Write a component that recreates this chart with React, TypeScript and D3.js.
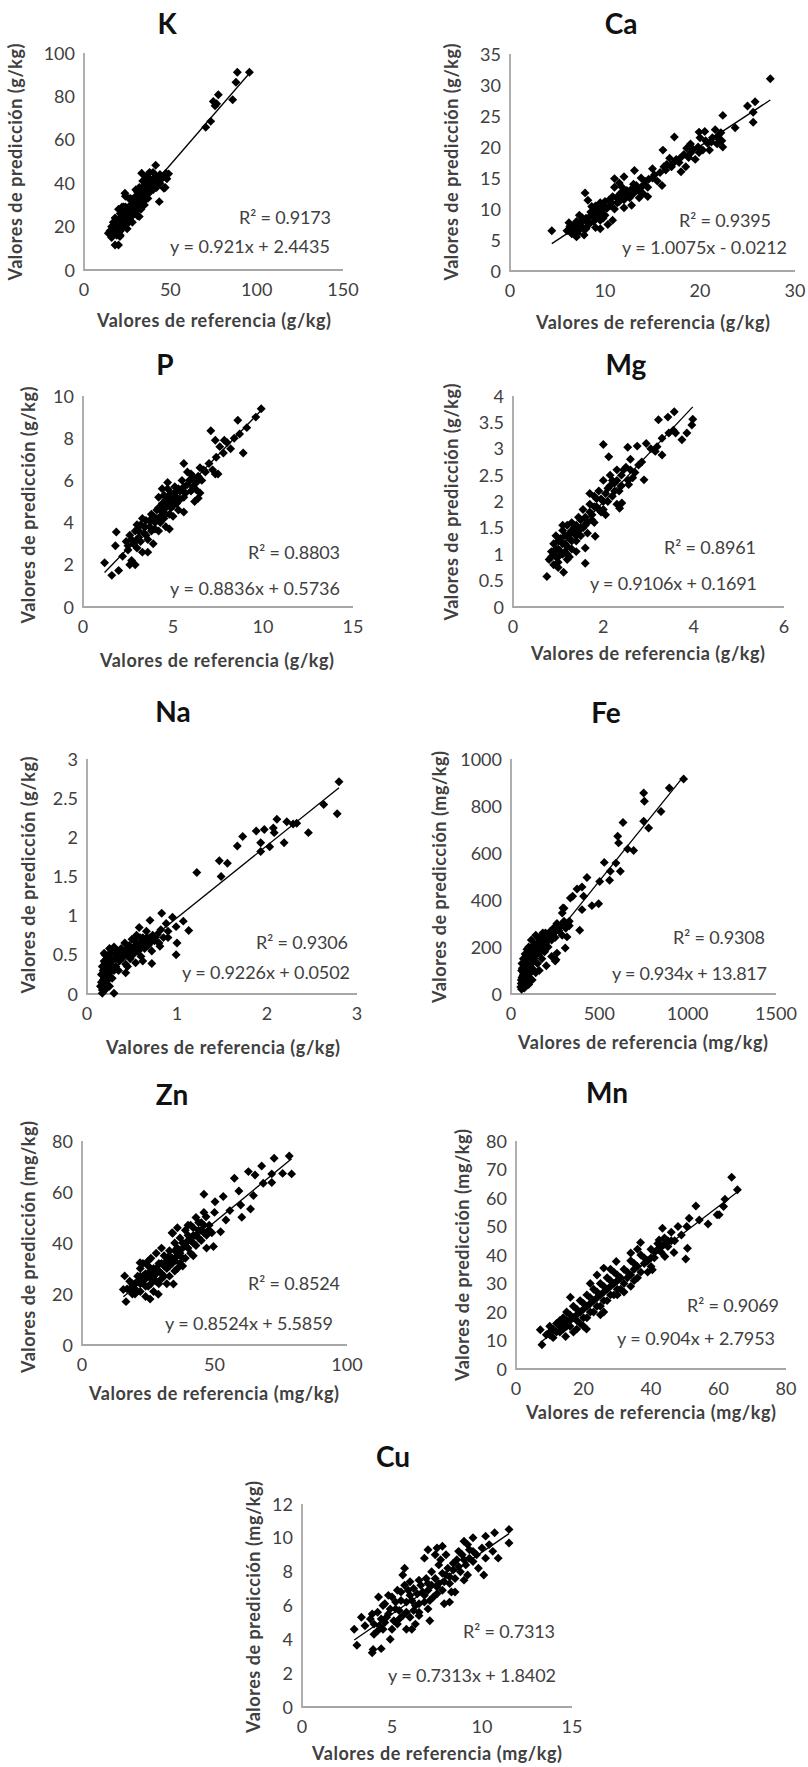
import React from "react";
import * as d3 from "d3";

// ---- data ----
const K_POINTS = [
  [95.8, 91.1], [88.8, 91.1], [88, 86.5], [86.1, 78.5], [77.8, 80.8], [74.9, 77.7], [75.9, 75.7], [76.8, 76.6],
  [73.4, 68.5], [70.5, 65.8], [49, 44.3], [47.4, 44.6], [41.5, 48.3], [43.6, 31.5], [46.3, 37.7], [33.4, 44.6],
  [23.7, 35.4], [32, 24.6], [18, 11.5], [20, 11.5], [14.1, 16.9], [20.8, 15.4],
  [15, 18], [16, 20], [17, 17], [17, 22], [18, 19], [18, 24], [19, 16], [19, 21], [20, 23], [20, 19], [21, 26],
  [21, 18], [22, 22], [22, 25], [23, 20], [23, 27], [24, 24], [24, 29], [25, 22], [25, 26], [26, 28], [26, 24],
  [27, 30], [27, 26], [28, 25], [28, 32], [29, 28], [29, 31], [30, 27], [30, 34], [31, 30], [32, 33], [32, 29],
  [33, 36], [33, 31], [34, 34], [35, 37], [35, 32], [36, 35], [36, 40], [37, 38], [38, 36], [38, 41], [39, 39],
  [40, 42], [40, 37], [41, 40], [42, 43], [43, 41], [44, 44], [45, 42], [47, 38], [36, 43], [30, 37], [26, 33],
  [22, 29], [24, 34], [34, 41], [38, 45], [42, 38], [31, 25], [28, 22], [20, 28], [18, 22], [16, 15], [21, 16],
  [25, 19], [33, 28], [37, 33],
  [16, 17], [17, 19], [18, 18], [19, 19], [19, 23], [20, 21], [21, 20], [21, 23], [22, 24], [22, 19], [23, 22],
  [23, 24], [24, 22], [24, 26], [25, 24], [25, 28], [26, 26], [26, 22], [27, 25], [27, 28], [28, 27], [28, 29],
  [29, 26], [29, 30], [30, 29], [30, 31], [31, 28], [31, 32], [32, 31], [32, 35], [33, 33], [33, 29], [34, 32],
  [34, 36], [35, 34], [35, 39], [36, 33], [36, 37], [37, 35], [37, 40], [38, 39], [39, 37], [39, 41], [40, 40],
  [41, 42], [41, 38], [42, 41], [43, 43], [44, 40], [46, 43], [48, 42], [35, 30], [29, 33], [23, 29], [27, 33],
  [32, 38], [31, 36], [37, 43], [40, 45],
];
const CA_POINTS = [
  [27.4, 31.0], [25.8, 27.3], [25, 26.6], [25.6, 25.6], [25.6, 24.0], [23.7, 23.1], [22.4, 25.1], [22.4, 20.0],
  [19.9, 22.4], [17.3, 21.6], [16.1, 19.5], [16, 13.8], [13.1, 16.2], [12, 15.2], [11, 14.9], [7.9, 12.6],
  [4.4, 6.5], [8.2, 11.4],
  [6, 6.5], [6.2, 7.8], [6.5, 6], [6.8, 7], [7, 5.5], [7, 8], [7.2, 6.5], [7.5, 7.2], [7.8, 5.8], [8, 8.5],
  [8, 6.8], [8.3, 7.5], [8.5, 9.5], [8.8, 8], [9, 10.5], [9, 7], [9.2, 9], [9.5, 11], [9.5, 8.2], [9.8, 10],
  [10, 9], [10, 11.2], [10.3, 7.5], [10.5, 10.5], [10.8, 12], [11, 10], [11, 13.5], [11.3, 11], [11.6, 12.5],
  [12, 11.5], [12, 10.2], [12.3, 13], [12.6, 11.8], [13, 12.5], [13, 14], [13.5, 13], [14, 12.5], [14.2, 14.5],
  [14.5, 13.5], [15, 15], [15, 16.5], [15.5, 14.5], [16.2, 16.8], [16.5, 17.2], [17, 16.8], [17.5, 18],
  [17.8, 17.5], [18, 16], [18.3, 18.8], [18.5, 16.8], [19, 19], [19, 20.5], [19.5, 18], [19.8, 20], [20, 21.5],
  [20.3, 19.5], [20.5, 22.5], [20.8, 20.6], [21, 19.5], [21.3, 21.5], [21.6, 22.8], [21.8, 20.5], [22, 21.2],
  [22.2, 22.3], [14.5, 12], [13.8, 15], [9.5, 6.8], [10.8, 8.2], [7.3, 9], [11.5, 14.2], [16.8, 18.2],
  [18.6, 19.8], [12.8, 10.6],
  [6.3, 7.2], [6.6, 6.6], [6.9, 7.6], [7.1, 6.1], [7.4, 7.8], [7.7, 6.9], [7.9, 8.2], [8.2, 7.9], [8.4, 8.8],
  [8.7, 9], [8.9, 9.8], [9.1, 8.5], [9.3, 10.2], [9.6, 9.5], [9.9, 10.6], [10.2, 10.1], [10.4, 11.4],
  [10.7, 11], [11.2, 11.8], [11.5, 11.2], [11.8, 12.2], [12.1, 12.6], [12.5, 12.2], [12.9, 13.4], [13.3, 13.8],
  [13.7, 13.3], [14.1, 14], [14.6, 14.8], [15.2, 15.5], [15.8, 15.9], [16.4, 16.3], [17.2, 17.4], [17.9, 18.2],
  [18.8, 18.3], [19.3, 19.6], [19.9, 19.1], [20.6, 21], [21.2, 20.8], [21.9, 21.8], [22.3, 21], [9.8, 8.5],
  [8.6, 10.4], [11.8, 13.5], [13.6, 11.8], [7.6, 8.6],
];
const P_POINTS = [
  [9.9, 9.4], [9.6, 9.0], [8.9, 7.3], [8.6, 8.85], [9.1, 8.5], [7.1, 8.35], [7.85, 7.9], [7.35, 7.9],
  [7.5, 6.3], [7.35, 6.3], [6.4, 5.15], [6.3, 5.55], [5.6, 4.5], [4.8, 3.7], [5.6, 6.8], [1.85, 3.55],
  [1.2, 2.1], [1.6, 1.5], [1.98, 1.73], [2.9, 2.0], [1.8, 2.9],
  [2.2, 2.4], [2.4, 3.1], [2.5, 2.7], [2.6, 3.4], [2.7, 2.2], [2.8, 3.0], [2.9, 3.6], [3.0, 2.8], [3.1, 3.3],
  [3.2, 3.9], [3.3, 2.6], [3.4, 3.5], [3.5, 4.1], [3.6, 3.2], [3.7, 3.8], [3.8, 4.4], [3.9, 3.0], [4.0, 4.0],
  [4.1, 4.6], [4.2, 3.6], [4.3, 4.3], [4.4, 4.9], [4.5, 4.2], [4.5, 5.3], [4.6, 4.7], [4.7, 5.6], [4.8, 5.0],
  [4.8, 4.4], [4.9, 5.4], [5.0, 4.8], [5.1, 5.7], [5.2, 5.2], [5.3, 4.6], [5.4, 5.5], [5.5, 6.0], [5.6, 5.2],
  [5.8, 5.8], [6.0, 5.5], [6.1, 6.2], [6.3, 5.9], [6.5, 6.6], [6.6, 6.0], [6.8, 6.4], [7.0, 6.8], [7.2, 6.5],
  [7.4, 7.1], [7.6, 7.6], [7.8, 7.3], [8.0, 7.8], [8.2, 7.5], [8.4, 8.0], [8.7, 8.2], [4.6, 3.8], [3.6, 2.6],
  [4.2, 5.2], [5.8, 6.4], [6.2, 5.0], [3.0, 3.9], [2.6, 2.0],
  [2.5, 2.9], [2.7, 3.2], [2.9, 3.1], [3.1, 3.6], [3.2, 3.1], [3.4, 3.8], [3.5, 3.4], [3.7, 4.1], [3.8, 3.6],
  [3.9, 4.3], [4.0, 3.7], [4.1, 4.2], [4.2, 4.7], [4.3, 4.0], [4.4, 4.5], [4.5, 4.8], [4.6, 5.1], [4.6, 4.4],
  [4.7, 4.9], [4.8, 5.3], [4.9, 4.7], [5.0, 5.1], [5.1, 5.4], [5.2, 4.9], [5.3, 5.6], [5.4, 5.1], [5.6, 5.7],
  [5.7, 5.4], [5.9, 6.0], [6.1, 5.7], [6.4, 6.2], [6.7, 6.5], [4.4, 5.6], [4.7, 5.9], [3.3, 4.2], [5.0, 4.3],
  [6.0, 6.3], [6.5, 5.4],
];
const MG_POINTS = [
  [3.98, 3.56], [3.96, 3.45], [3.85, 3.3], [3.74, 3.17], [3.57, 3.7], [3.43, 3.6], [3.22, 3.55], [3.3, 2.88],
  [3.19, 3.04], [2.9, 2.41], [2.78, 2.69], [2.0, 3.08], [2.12, 2.85], [2.54, 3.03], [1.6, 0.83], [1.6, 1.12],
  [1.12, 0.66], [0.75, 0.58], [1.82, 1.34], [2.41, 1.97], [2.36, 1.87], [2.56, 2.32],
  [0.8, 0.9], [0.85, 1.05], [0.9, 0.8], [0.9, 1.2], [0.95, 0.95], [1.0, 1.1], [1.0, 0.75], [1.05, 1.3],
  [1.1, 1.0], [1.1, 1.45], [1.15, 1.2], [1.2, 0.9], [1.2, 1.55], [1.25, 1.3], [1.3, 1.1], [1.3, 1.6],
  [1.35, 1.4], [1.4, 1.25], [1.45, 1.7], [1.5, 1.5], [1.5, 1.35], [1.55, 1.85], [1.6, 1.55], [1.65, 1.4],
  [1.7, 1.95], [1.75, 1.75], [1.8, 2.1], [1.8, 1.6], [1.85, 1.9], [1.9, 2.2], [1.95, 1.8], [2.0, 2.0],
  [2.0, 2.4], [2.05, 1.75], [2.1, 2.25], [2.15, 2.5], [2.2, 2.1], [2.25, 2.35], [2.3, 2.6], [2.35, 2.2],
  [2.4, 2.5], [2.5, 2.65], [2.55, 2.4], [2.6, 2.8], [2.7, 2.55], [2.75, 3.05], [2.85, 2.75], [2.95, 3.1],
  [3.05, 3.0], [3.15, 2.95], [3.3, 3.2], [3.45, 3.3], [3.55, 3.35], [3.6, 3.3], [1.25, 0.95], [1.4, 1.05],
  [0.95, 1.35], [1.7, 2.15], [2.3, 1.95],
  [0.85, 0.95], [0.9, 1.0], [0.95, 1.1], [1.0, 0.95], [1.0, 1.25], [1.05, 1.05], [1.1, 1.2], [1.15, 1.05],
  [1.15, 1.35], [1.2, 1.15], [1.25, 1.4], [1.3, 1.25], [1.35, 1.5], [1.4, 1.35], [1.4, 1.55], [1.45, 1.45],
  [1.5, 1.65], [1.55, 1.5], [1.6, 1.7], [1.65, 1.6], [1.7, 1.8], [1.75, 1.65], [1.8, 1.9], [1.85, 2.05],
  [1.9, 1.85], [1.95, 2.05], [2.0, 1.85], [2.05, 2.15], [2.1, 2.0], [2.15, 2.3], [2.2, 2.4], [2.25, 2.2],
  [2.3, 2.4], [2.4, 2.3], [2.45, 2.6], [2.6, 2.6], [2.65, 2.45], [1.0, 0.85], [1.2, 1.0], [1.3, 1.45],
  [1.1, 1.55],
];
const NA_POINTS = [
  [2.8, 2.71], [2.78, 2.3], [2.63, 2.42], [2.46, 2.06], [2.33, 2.18], [2.29, 2.17], [2.22, 2.2], [2.19, 1.93],
  [2.11, 2.23], [2.07, 2.12], [2.08, 2.06], [2.03, 1.88], [1.93, 1.93], [1.93, 1.82], [1.88, 2.08], [1.97, 2.1],
  [1.73, 2.01], [1.67, 1.89], [1.56, 1.67], [1.47, 1.7], [1.49, 1.5], [1.22, 1.55], [1.13, 0.81], [1.07, 0.93],
  [0.99, 0.86], [1.0, 0.65], [0.99, 0.5], [0.95, 0.98], [0.83, 1.03], [0.7, 0.94], [0.72, 0.39], [0.43, 0.27],
  [0.3, 0.01], [0.17, 0.01], [0.19, 0.52], [0.81, 0.61], [0.9, 0.72],
  [0.15, 0.1], [0.16, 0.25], [0.17, 0.35], [0.18, 0.18], [0.19, 0.42], [0.2, 0.05], [0.2, 0.3], [0.21, 0.15],
  [0.22, 0.45], [0.23, 0.25], [0.24, 0.38], [0.25, 0.1], [0.26, 0.52], [0.27, 0.3], [0.28, 0.2], [0.3, 0.45],
  [0.3, 0.6], [0.32, 0.35], [0.34, 0.5], [0.36, 0.42], [0.38, 0.58], [0.4, 0.48], [0.42, 0.65], [0.43, 0.38],
  [0.45, 0.55], [0.47, 0.62], [0.48, 0.45], [0.5, 0.7], [0.5, 0.52], [0.52, 0.6], [0.54, 0.4], [0.55, 0.75],
  [0.56, 0.55], [0.58, 0.85], [0.6, 0.65], [0.6, 0.48], [0.62, 0.72], [0.64, 0.58], [0.66, 0.8], [0.68, 0.62],
  [0.7, 0.72], [0.72, 0.55], [0.75, 0.68], [0.78, 0.76], [0.8, 0.65], [0.82, 0.82], [0.85, 0.72], [0.88, 0.9],
  [0.9, 0.8], [0.25, 0.58], [0.35, 0.3], [0.62, 0.42], [0.45, 0.35], [0.2, 0.5],
  [0.16, 0.15], [0.17, 0.05], [0.18, 0.3], [0.19, 0.22], [0.2, 0.4], [0.21, 0.35], [0.22, 0.1], [0.23, 0.35],
  [0.24, 0.5], [0.25, 0.2], [0.26, 0.4], [0.27, 0.45], [0.28, 0.35], [0.29, 0.55], [0.3, 0.3], [0.32, 0.45],
  [0.33, 0.55], [0.35, 0.5], [0.37, 0.45], [0.39, 0.52], [0.41, 0.55], [0.44, 0.5], [0.46, 0.6], [0.49, 0.58],
  [0.51, 0.5], [0.53, 0.68], [0.55, 0.62], [0.57, 0.55], [0.59, 0.72], [0.61, 0.6], [0.63, 0.65], [0.65, 0.7],
  [0.67, 0.72], [0.7, 0.65], [0.73, 0.75], [0.76, 0.72], [0.2, 0.2], [0.18, 0.1], [0.24, 0.3],
];
const FE_POINTS = [
  [977, 915], [896, 877], [849, 777], [779, 706], [751, 735], [751, 855], [755, 820], [634, 730], [604, 671],
  [609, 643], [694, 611], [660, 617], [619, 522], [594, 557], [562, 522], [558, 484], [528, 560], [502, 479],
  [496, 384], [458, 376], [430, 496], [402, 455], [411, 416], [402, 359], [389, 271], [374, 447], [336, 408],
  [349, 416], [294, 366], [317, 243], [307, 196], [255, 146], [260, 174],
  [55, 30], [58, 60], [60, 100], [62, 130], [65, 40], [68, 80], [70, 150], [72, 110], [75, 25], [78, 60],
  [80, 170], [82, 130], [85, 95], [88, 50], [90, 190], [92, 145], [95, 115], [98, 75], [100, 200], [105, 160],
  [108, 125], [110, 90], [115, 230], [118, 180], [120, 140], [125, 105], [130, 210], [135, 165], [140, 250],
  [145, 190], [150, 130], [155, 220], [160, 175], [165, 240], [170, 200], [175, 150], [180, 260], [185, 215],
  [190, 180], [200, 245], [210, 200], [220, 265], [230, 230], [240, 280], [250, 240], [260, 300], [270, 270],
  [280, 290], [290, 250], [300, 310], [310, 280], [320, 300], [330, 290], [290, 345], [300, 365], [330, 310],
  [120, 60], [140, 90], [100, 40], [200, 120], [160, 100], [230, 160], [250, 140],
  [58, 45], [62, 70], [64, 110], [66, 55], [70, 90], [72, 130], [74, 70], [76, 110], [78, 150], [80, 85],
  [84, 115], [86, 160], [88, 130], [92, 100], [94, 170], [96, 140], [100, 120], [102, 175], [106, 145],
  [110, 190], [112, 160], [116, 130], [120, 200], [124, 170], [128, 150], [132, 190], [138, 210], [142, 170],
  [148, 200], [152, 240], [158, 200], [162, 225], [168, 180], [172, 230], [178, 205], [182, 240], [188, 220],
  [195, 260], [205, 230], [215, 250], [225, 245], [235, 260], [245, 265], [255, 280], [265, 290], [60, 20],
  [70, 35], [85, 60],
];
const ZN_POINTS = [
  [78.2, 74.1], [79.1, 67.1], [75.7, 67.3], [72.5, 73.2], [71.6, 63.7], [71.6, 67.1], [68.4, 63.4],
  [67.8, 70.2], [65.3, 66.7], [64.7, 58.6], [62.8, 68], [63.6, 53.3], [60.3, 50.1], [59.2, 60.4], [57.5, 65.4],
  [59.9, 54.9], [55.8, 52.7], [54.3, 49], [53.3, 58.2], [50.2, 56.2], [46, 59.1], [49.6, 38.6], [52.3, 44.4],
  [46.8, 50.3], [34.5, 23.9], [28.8, 19.9], [25.7, 18], [16.6, 17], [16.1, 27.1], [15.6, 21.8], [21.9, 32.3],
  [34.2, 43.8],
  [17, 22], [18, 25], [19, 20], [20, 24], [21, 27], [22, 21], [22, 30], [23, 25], [24, 19], [24, 28], [25, 23],
  [25, 33], [26, 26], [27, 30], [27, 21], [28, 36], [28, 25], [29, 32], [30, 28], [31, 35], [32, 30], [32, 24],
  [33, 37], [34, 32], [35, 40], [35, 29], [36, 35], [37, 42], [37, 32], [38, 38], [39, 45], [39, 34], [40, 41],
  [41, 36], [41, 47], [42, 43], [43, 39], [43, 50], [44, 45], [45, 41], [45, 48], [46, 44], [47, 38], [48, 47],
  [49, 44], [50, 52], [30, 38], [26, 34], [33, 27], [38, 31], [42, 35], [23, 32], [20, 20], [36, 46], [46, 52],
  [29, 24], [34, 44],
  [18, 22], [19, 24], [20, 22], [21, 25], [22, 24], [23, 27], [24, 23], [24, 26], [25, 28], [26, 24], [26, 29],
  [27, 27], [28, 30], [28, 28], [29, 29], [30, 32], [30, 26], [31, 31], [32, 33], [33, 31], [33, 35], [34, 34],
  [35, 33], [35, 37], [36, 38], [37, 36], [38, 40], [38, 34], [39, 39], [40, 43], [40, 38], [41, 41], [42, 40],
  [42, 46], [43, 43], [44, 42], [44, 48], [45, 45], [46, 47], [47, 43], [48, 45], [36, 30], [31, 27], [25, 31],
  [22, 27], [40, 47],
];
const MN_POINTS = [
  [63.9, 67.3], [65.6, 62.9], [61.9, 59.6], [61.5, 57], [60.2, 54.1], [59.6, 54.1], [53.3, 57.2], [54.3, 52.3],
  [56.9, 50.9], [51.3, 52.9], [50.6, 50], [50.8, 42.4], [50.3, 38.6], [43.4, 49.4], [42.4, 45.3], [44.1, 39.5],
  [46.8, 40.9], [40.4, 34.8], [36.9, 44.4], [34, 40.7], [29.7, 37.7], [26, 35.4], [16.1, 25.2], [7.7, 8.5],
  [7.2, 13.8], [10.2, 13.2], [14.7, 11.4], [20.9, 14.0],
  [9, 12], [10, 15], [11, 11], [12, 16], [13, 13], [14, 18], [15, 15], [15, 20], [16, 17], [17, 13], [17, 22],
  [18, 19], [19, 16], [19, 24], [20, 21], [21, 18], [21, 26], [22, 23], [23, 20], [23, 28], [24, 25], [25, 22],
  [25, 30], [26, 27], [27, 24], [27, 32], [28, 29], [29, 26], [29, 34], [30, 31], [31, 28], [32, 35], [33, 32],
  [34, 29], [34, 38], [35, 35], [36, 32], [37, 40], [38, 37], [39, 34], [40, 42], [41, 39], [42, 44], [43, 41],
  [44, 46], [45, 43], [46, 48], [47, 45], [48, 50], [49, 47], [22, 30], [26, 20], [32, 27], [36, 42], [18, 14],
  [28, 35], [40, 36], [24, 33], [13, 17], [20, 15],
  [10, 12], [11, 14], [12, 13], [13, 15], [14, 14], [14, 16], [15, 17], [16, 15], [16, 19], [17, 18], [18, 17],
  [18, 21], [19, 20], [20, 18], [20, 23], [21, 22], [22, 20], [22, 25], [23, 24], [24, 22], [24, 27], [25, 26],
  [26, 24], [26, 29], [27, 28], [28, 26], [28, 31], [29, 30], [30, 28], [30, 33], [31, 32], [32, 30], [33, 34],
  [34, 33], [35, 37], [36, 36], [37, 34], [38, 39], [39, 38], [40, 39], [41, 41], [42, 42], [43, 43], [44, 44],
  [45, 45], [46, 45], [30, 26], [25, 19], [35, 31],
];
const CU_POINTS = [
  [11.5, 10.5], [11.5, 9.7], [10.9, 8.8], [10.6, 9.2], [10.1, 7.8], [10.7, 10.3], [10.2, 10.1], [9.5, 10.0],
  [9.2, 9.6], [9.0, 7.5], [8.5, 6.8], [8.2, 6.2], [7.8, 9.5], [7.5, 9.4], [7.0, 9.3], [7.1, 5.1], [6.5, 5.4],
  [6.1, 4.6], [5.8, 4.6], [5.7, 8.2], [4.9, 4.0], [4.4, 3.45], [3.9, 3.2], [3.95, 3.4], [3.05, 3.65],
  [2.9, 4.6], [3.3, 5.3], [3.9, 5.5], [4.25, 6.5],
  [3.5, 4.8], [3.8, 5.2], [4.0, 4.3], [4.2, 5.6], [4.3, 4.8], [4.5, 6.0], [4.6, 5.0], [4.8, 5.5], [5.0, 6.5],
  [5.0, 4.6], [5.2, 5.8], [5.3, 6.9], [5.4, 5.2], [5.5, 6.3], [5.7, 7.2], [5.8, 5.6], [6.0, 6.6], [6.0, 5.3],
  [6.2, 7.0], [6.3, 6.0], [6.5, 7.5], [6.5, 5.6], [6.7, 6.8], [6.8, 6.2], [7.0, 7.3], [7.0, 5.8], [7.2, 8.0],
  [7.3, 6.5], [7.5, 7.1], [7.6, 8.4], [7.8, 6.9], [8.0, 7.8], [8.0, 9.0], [8.2, 7.3], [8.4, 8.5], [8.5, 7.6],
  [8.7, 9.2], [8.8, 8.0], [9.0, 8.7], [9.2, 7.8], [9.3, 9.3], [9.5, 8.6], [9.7, 9.0], [9.8, 8.2], [10.0, 9.4],
  [10.2, 8.8], [10.4, 9.6], [6.8, 8.8], [5.6, 7.8], [7.9, 6.1], [9.0, 9.8], [4.8, 6.6], [6.3, 4.9], [8.3, 6.8],
  [7.4, 9.0],
  [4.0, 4.9], [4.2, 4.5], [4.4, 5.2], [4.5, 4.6], [4.7, 5.3], [4.9, 5.8], [5.1, 5.1], [5.2, 6.2], [5.4, 5.7],
  [5.5, 6.8], [5.6, 5.4], [5.8, 6.2], [5.9, 6.9], [6.1, 6.3], [6.2, 5.7], [6.4, 6.7], [6.5, 6.1], [6.6, 7.2],
  [6.8, 6.6], [6.9, 7.6], [7.0, 6.9], [7.1, 6.3], [7.2, 7.2], [7.4, 7.6], [7.5, 6.7], [7.6, 7.3], [7.8, 7.9],
  [7.9, 7.4], [8.1, 8.2], [8.2, 7.7], [8.4, 8.1], [8.6, 8.7], [8.7, 8.3], [8.9, 9.0], [9.1, 8.4], [9.3, 8.8],
  [9.5, 9.2], [6.0, 7.4], [7.7, 8.7], [5.3, 4.9], [4.6, 6.1],
];

const ELEMENTS = ["K", "Ca", "P", "Mg", "Na", "Fe", "Zn", "Mn", "Cu"];
const R2 = ["0.9173", "0.9395", "0.8803", "0.8961", "0.9306", "0.9308", "0.8524", "0.9069", "0.7313"];
const SLOPES = [0.921, 1.0075, 0.8836, 0.9106, 0.9226, 0.934, 0.8524, 0.904, 0.7313];
const INTERCEPTS = [2.4435, -0.0212, 0.5736, 0.1691, 0.0502, 13.817, 5.5859, 2.7953, 1.8402];
const EQUATIONS = [
  "y = 0.921x + 2.4435", "y = 1.0075x - 0.0212", "y = 0.8836x + 0.5736", "y = 0.9106x + 0.1691",
  "y = 0.9226x + 0.0502", "y = 0.934x + 13.817", "y = 0.8524x + 5.5859", "y = 0.904x + 2.7953",
  "y = 0.7313x + 1.8402",
];
const UNITS = ["g/kg", "g/kg", "g/kg", "g/kg", "g/kg", "mg/kg", "mg/kg", "mg/kg", "mg/kg"];
const X_TICKS = [
  [0, 50, 100, 150], [0, 10, 20, 30], [0, 5, 10, 15], [0, 2, 4, 6], [0, 1, 2, 3],
  [0, 500, 1000, 1500], [0, 50, 100], [0, 20, 40, 60, 80], [0, 5, 10, 15],
];
const Y_TICKS = [
  [0, 20, 40, 60, 80, 100], [0, 5, 10, 15, 20, 25, 30, 35], [0, 2, 4, 6, 8, 10],
  [0, 0.5, 1, 1.5, 2, 2.5, 3, 3.5, 4], [0, 0.5, 1, 1.5, 2, 2.5, 3], [0, 200, 400, 600, 800, 1000],
  [0, 20, 40, 60, 80], [0, 10, 20, 30, 40, 50, 60, 70, 80], [0, 2, 4, 6, 8, 10, 12],
];
const POINTS = [K_POINTS, CA_POINTS, P_POINTS, MG_POINTS, NA_POINTS, FE_POINTS, ZN_POINTS, MN_POINTS, CU_POINTS];

// ---- layout (pixels) ----
const LAYOUT = [
  { x0: 84, x1: 343, yb: 270, yt: 53, tx: 167, ty: 24, ytx: 15, yty: 162, xtx: 214, xty: 320, r2x: 331, r2y: 217, eqx: 330, eqy: 246, eqw: 160 },
  { x0: 510, x1: 795, yb: 271, yt: 54, tx: 621, ty: 24, ytx: 451, yty: 162, xtx: 653, xty: 322, r2x: 771, r2y: 220, eqx: 787, eqy: 247, eqw: 165 },
  { x0: 83, x1: 353, yb: 607, yt: 396, tx: 165, ty: 365, ytx: 28, yty: 505, xtx: 217, xty: 660, r2x: 340, r2y: 552, eqx: 340, eqy: 588, eqw: 170 },
  { x0: 513, x1: 784, yb: 607, yt: 396, tx: 626, ty: 365, ytx: 451, yty: 502, xtx: 648, xty: 653, r2x: 756, r2y: 547, eqx: 757, eqy: 583, eqw: 167 },
  { x0: 87, x1: 357, yb: 994, yt: 759, tx: 173, ty: 712, ytx: 28, yty: 875, xtx: 223, xty: 1047, r2x: 348, r2y: 942, eqx: 350, eqy: 972, eqw: 168 },
  { x0: 511, x1: 776, yb: 994, yt: 759, tx: 606, ty: 713, ytx: 439, yty: 877, xtx: 643, xty: 1042, r2x: 765, r2y: 937, eqx: 767, eqy: 973, eqw: 155 },
  { x0: 82, x1: 347, yb: 1345, yt: 1141, tx: 172, ty: 1095, ytx: 28, yty: 1247, xtx: 214, xty: 1393, r2x: 340, r2y: 1283, eqx: 333, eqy: 1323, eqw: 168 },
  { x0: 516, x1: 786, yb: 1369, yt: 1141, tx: 607, ty: 1093, ytx: 462, yty: 1255, xtx: 651, xty: 1412, r2x: 779, r2y: 1305, eqx: 775, eqy: 1338, eqw: 158 },
  { x0: 302, x1: 572, yb: 1707, yt: 1504, tx: 393, ty: 1457, ytx: 253, yty: 1607, xtx: 437, xty: 1753, r2x: 555, r2y: 1631, eqx: 556, eqy: 1675, eqw: 168 },
];

const FONT = "Lato, 'Open Sans', sans-serif";
const TEXT = "#404040";
const diamond = d3.symbol(d3.symbolSquare, 40)();

function Panel({ i }: { i: number }) {
  const L = LAYOUT[i];
  const xt = X_TICKS[i];
  const yt = Y_TICKS[i];
  const pts = POINTS[i];
  const mg = UNITS[i] === "mg/kg";
  const x = d3.scaleLinear().domain([xt[0], xt[xt.length - 1]]).range([L.x0, L.x1]);
  const y = d3.scaleLinear().domain([yt[0], yt[yt.length - 1]]).range([L.yb, L.yt]);
  const [xmin, xmax] = d3.extent(pts, (d) => d[0]) as [number, number];
  const trend = d3
    .line<number>()
    .x((v) => x(v))
    .y((v) => y(SLOPES[i] * v + INTERCEPTS[i]))([xmin, xmax]);
  return (
    <g fontFamily={FONT}>
      <text x={L.tx} y={L.ty + 10} textAnchor="middle" fontSize={28} fontWeight="bold" fill="#111">
        {ELEMENTS[i]}
      </text>
      {yt.map((t) => (
        <text key={"y" + t} x={L.x0 - 9} y={y(t) + 6.5} textAnchor="end" fontSize={18} fill={TEXT}>
          {t}
        </text>
      ))}
      {xt.map((t) => (
        <text key={"x" + t} x={x(t)} y={L.yb + 25.5} textAnchor="middle" fontSize={18} fill={TEXT}>
          {t}
        </text>
      ))}
      <path d={`M${L.x0},${L.yt}V${L.yb}H${L.x1}`} fill="none" stroke="#a6a6a6" strokeWidth={1.8} />
      {pts.map((d, k) => (
        <path key={k} d={diamond} transform={`translate(${x(d[0])},${y(d[1])}) rotate(45)`} fill="#000" />
      ))}
      <path d={trend ?? ""} stroke="#000" strokeWidth={1.3} fill="none" />
      <text x={L.r2x} y={L.r2y + 6.5} textAnchor="end" fontSize={18} fill={TEXT} textLength={92} lengthAdjust="spacing">
        {"R² = " + R2[i]}
      </text>
      <text x={L.eqx} y={L.eqy + 6.5} textAnchor="end" fontSize={18} fill={TEXT} textLength={L.eqw} lengthAdjust="spacing">
        {EQUATIONS[i]}
      </text>
      <text
        x={L.xtx}
        y={L.xty + 6.5}
        textAnchor="middle"
        fontSize={18}
        fontWeight="bold"
        fill={TEXT}
        textLength={mg ? 250 : 234}
        lengthAdjust="spacing"
      >
        {`Valores de referencia (${UNITS[i]})`}
      </text>
      <text
        transform={`translate(${L.ytx + 6.5},${L.yty}) rotate(-90)`}
        textAnchor="middle"
        fontSize={18}
        fontWeight="bold"
        fill={TEXT}
        textLength={mg ? 252 : 237}
        lengthAdjust="spacing"
      >
        {`Valores de predicción (${UNITS[i]})`}
      </text>
    </g>
  );
}

export default function App() {
  return (
    <div style={{ position: "absolute", left: 0, top: 0 }}>
      <svg width={808} height={1767} style={{ display: "block", background: "#fff" }}>
        {ELEMENTS.map((_, i) => (
          <Panel key={i} i={i} />
        ))}
      </svg>
    </div>
  );
}
